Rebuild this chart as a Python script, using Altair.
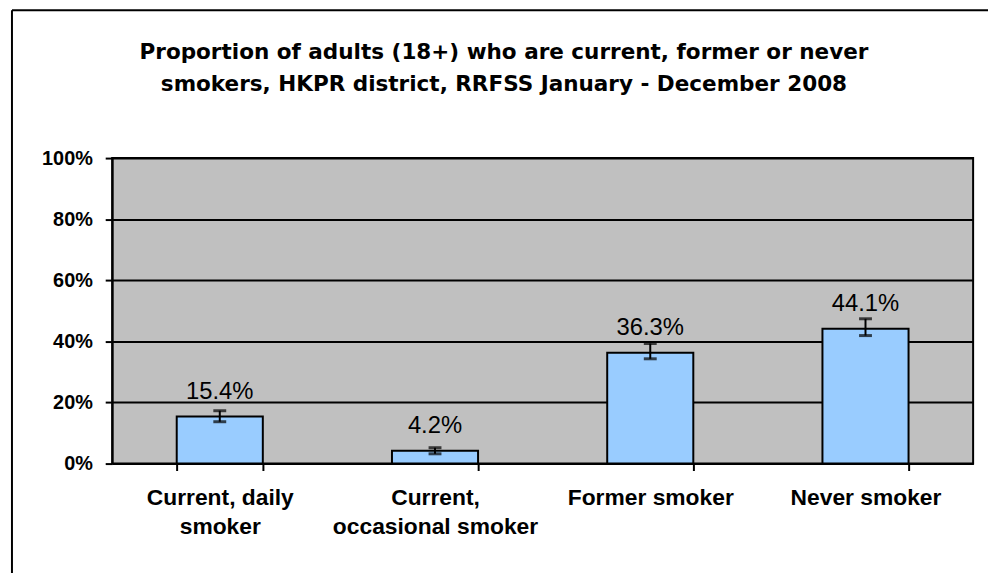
import altair as alt
import pandas as pd

categories = ["Current, daily|smoker", "Current,|occasional smoker", "Former smoker", "Never smoker"]
values = [0.154, 0.042, 0.363, 0.441]
lower = [0.137, 0.032, 0.343, 0.419]
upper = [0.173, 0.052, 0.393, 0.474]
value_labels = ["15.4%", "4.2%", "36.3%", "44.1%"]
y_ticks = [0, 0.2, 0.4, 0.6, 0.8, 1.0]
title_lines = [
    "Proportion of adults (18+) who are current, former or never",
    "smokers, HKPR district, RRFSS January - December 2008",
]

df = pd.DataFrame({
    "category": categories,
    "value": values,
    "lower": lower,
    "upper": upper,
    "label": value_labels,
})

FONT = "Liberation Sans"

xenc = alt.X(
    "category:N",
    sort=categories,
    scale=alt.Scale(paddingInner=0.6, paddingOuter=0.3),
    axis=alt.Axis(
        title=None,
        labelAngle=0,
        tickBand="extent",
        labelExpr="split(datum.label, '|')",
        labelFontSize=23,
        labelFontWeight="bold",
        labelLineHeight=29,
        labelPadding=16,
        labelLimit=400,
        tickSize=7,
        grid=False,
    ),
)
xplain = alt.X("category:N", sort=categories)

yenc = alt.Y(
    "value:Q",
    scale=alt.Scale(domain=[0, 1]),
    axis=alt.Axis(
        title=None,
        values=y_ticks,
        format=".0%",
        labelFontSize=20,
        labelFontWeight="bold",
        labelPadding=13,
        tickSize=7,
        grid=True,
        gridColor="black",
        gridWidth=2,
    ),
)

base = alt.Chart(df)

bars = base.mark_bar(fill="#99CCFF", stroke="black", strokeWidth=2).encode(x=xenc, y=yenc)

stems = base.mark_rule(color="black", strokeWidth=2).encode(
    x=xplain, y=alt.Y("lower:Q"), y2="upper:Q"
)
cap_lo = base.mark_tick(color="black", thickness=3, size=13).encode(x=xplain, y="lower:Q")
cap_hi = base.mark_tick(color="black", thickness=3, size=13).encode(x=xplain, y="upper:Q")

texts = base.mark_text(
    font=FONT, fontSize=24, baseline="alphabetic", dy=-18, color="black"
).encode(x=xplain, y="value:Q", text="label:N")

frame_df = pd.DataFrame({"k": [0]})
left_border = alt.Chart(frame_df).mark_rule(color="black", strokeWidth=2).encode(
    x=alt.value(-101), y=alt.value(-149), y2=alt.value(430)
)
top_border = alt.Chart(frame_df).mark_rule(color="black", strokeWidth=2).encode(
    x=alt.value(-101), x2=alt.value(900), y=alt.value(-149)
)
title_text = alt.Chart(frame_df).mark_text(
    text=title_lines,
    font="DejaVu Sans",
    fontSize=21.7,
    fontWeight="bold",
    lineHeight=32,
    baseline="middle",
    align="center",
    color="black",
).encode(x=alt.value(395), y=alt.value(-107))

chart = (
    alt.layer(bars, stems, cap_lo, cap_hi, texts, left_border, top_border, title_text)
    .properties(
        width=868,
        height=308,
        autosize=alt.AutoSizeParams(type="none"),
        padding={"left": 105, "top": 149, "right": 15, "bottom": 108},
        background="white",
    )
    .configure_view(fill="#C0C0C0", stroke="black", strokeWidth=2)
    .configure_axis(
        labelFont=FONT,
        labelColor="black",
        domainColor="black",
        domainWidth=2,
        tickColor="black",
        tickWidth=2,
    )
)

chart.save("out.html", embed_options={"renderer": "svg", "actions": False})
